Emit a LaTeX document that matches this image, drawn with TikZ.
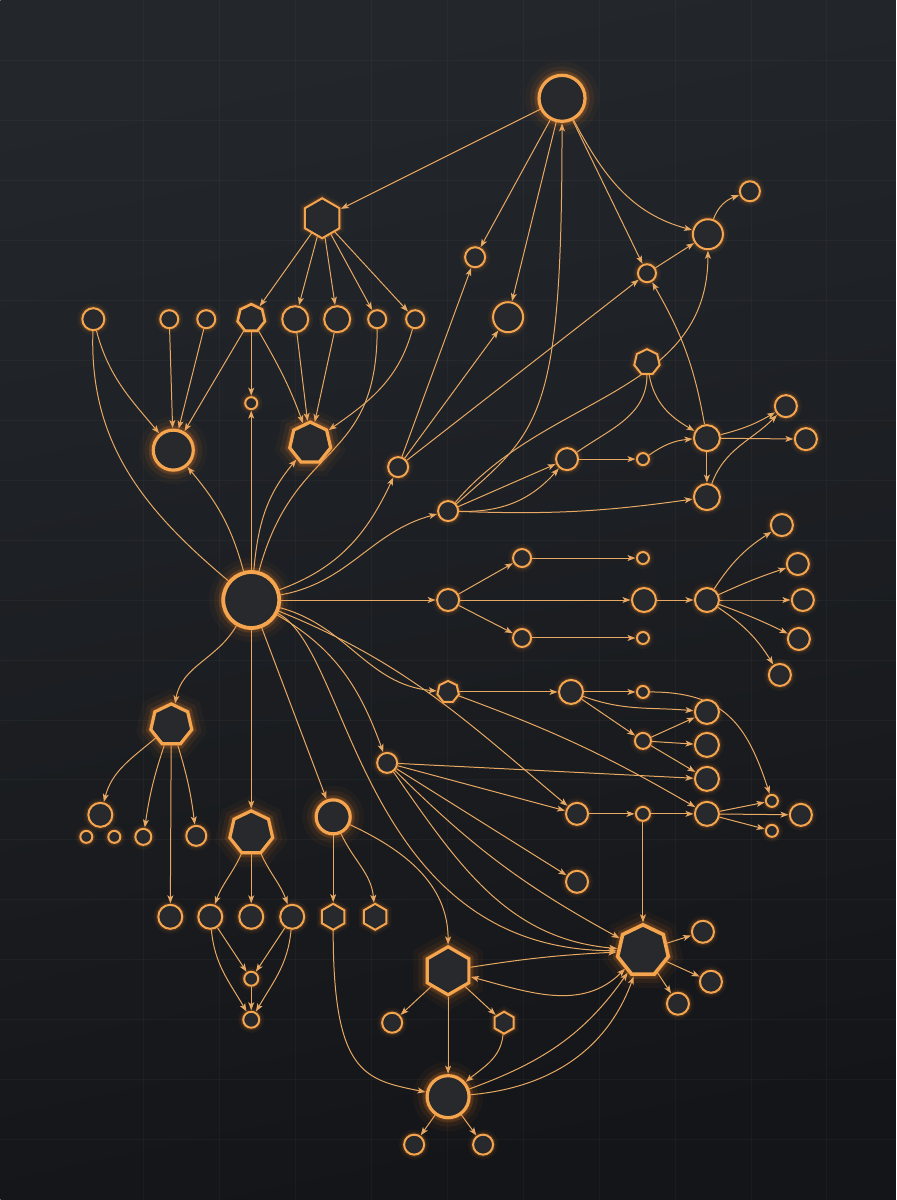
\documentclass[tikz,border=0pt]{standalone}
\usepackage{xcolor}
\usepackage{tikz}
\usetikzlibrary{arrows, arrows.meta}
\usetikzlibrary{shapes.geometric}
\usetikzlibrary{calc}
\pgfdeclarelayer{back}
\pgfdeclarelayer{bg}
\pgfsetlayers{back,bg,main}

\definecolor{bgtop}{HTML}{23272C}
\definecolor{bgbot}{HTML}{141518}
\definecolor{ember}{HTML}{F6A54F}
\definecolor{glow}{HTML}{FF8A26}
\definecolor{wirec}{HTML}{E8A964}
\definecolor{core}{HTML}{27292D}

\tikzset{
	nd/.style={circle, draw=ember, fill=core, line width=2pt, inner sep=0pt, minimum size=#1,
		preaction={draw=glow, line width=10pt, draw opacity=0.06},
		preaction={draw=glow, line width=5pt, draw opacity=0.15}},
	bright/.style={line width=3.2pt,
		preaction={draw=glow, line width=28pt, draw opacity=0.04},
		preaction={draw=glow, line width=18pt, draw opacity=0.07},
		preaction={draw=glow, line width=9pt, draw opacity=0.12}},
	hexa/.style={regular polygon, regular polygon sides=6, shape border rotate=30},
	hepta/.style={regular polygon, regular polygon sides=7},
	lk/.style={draw=wirec, line width=1pt, ->, shorten >=0.5pt},
	wr/.style={draw=wirec, line width=1pt},
}

\begin{document}
\begin{tikzpicture}[x=1pt, y=1pt, >={Stealth[length=8pt, width=6pt, inset=2pt]}]
	\begin{pgfonlayer}{back}
		\shade[top color=bgtop, bottom color=bgbot, shading angle=12] (0,0) rectangle (896,-1200);
		\foreach \gx in {143,219,...,827}
			{ \draw[white, opacity=0.03, line width=0.8pt] (\gx,0) -- (\gx,-1200); }
		\foreach \gy in {60,120,...,1140}
			{ \draw[white, opacity=0.03, line width=0.8pt] (0,-\gy) -- (896,-\gy); }
	\end{pgfonlayer}
	\useasboundingbox (0,0) rectangle (896,-1200);

	% upper part
	\node[nd=46, bright] (top) at (562,-98) {};
	\node[nd=40, hexa] (hexA) at (322,-218) {};
	\foreach \iNode/\px/\sz in {1/93/22, 2/169/18, 3/206/18, 5/295/26, 6/337/26, 7/377/18, 8/415/18}
	{
		\node[nd=\sz] (r\iNode) at (\px,-319) {};
	}
	\node[nd=28, hepta, line width=2.6pt] (r4) at (251,-318) {};
	\node[nd=40, bright] (sinkL) at (173,-450) {};
	\node[nd=12] (dot) at (251,-403) {};
	\node[nd=42, hepta, bright] (septB) at (310,-443) {};
	\foreach \iNode/\px/\py/\sz in {1/475/257/20, 2/508/317/30, 3/647/273/18, 4/708/234/30, 5/750/191/20}
	{
		\node[nd=\sz] (t\iNode) at (\px,-\py) {};
	}

	\node[nd=56, bright, line width=3.8pt] (hub) at (251,-600) {};

	\node[nd=20] (u1) at (398,-467) {};
	\node[nd=20] (u2) at (448,-511) {};
	\node[nd=22] (u3) at (567,-459) {};
	\node[nd=12] (u4) at (643,-459) {};
	\node[nd=26, hepta] (sept) at (647,-362) {};
	\node[nd=26] (u5) at (707,-438) {};
	\node[nd=22] (u6) at (786,-406) {};
	\node[nd=22] (u7) at (806,-439) {};
	\node[nd=26] (u8) at (707,-497) {};

	% middle rows
	\node[nd=22] (m1) at (448,-600) {};
	\node[nd=18] (m2) at (522,-558) {};
	\node[nd=12] (m3) at (643,-558) {};
	\node[nd=18] (m4) at (522,-638) {};
	\node[nd=12] (m5) at (643,-638) {};
	\node[nd=24] (m6) at (644,-600) {};
	\node[nd=24] (m7) at (707,-600) {};
	\foreach \iNode/\px/\py in {1/782/525, 2/798/564, 3/803/600, 4/799/639, 5/780/675}
	{
		\node[nd=22] (f\iNode) at (\px,-\py) {};
	}

	\node[nd=22, hepta] (l1) at (448,-692) {};
	\node[nd=24] (l2) at (571,-692) {};
	\node[nd=12] (l3) at (643,-692) {};
	\node[nd=16] (l4) at (643,-741) {};
	\foreach \iNode/\py in {1/712, 2/745, 3/779, 4/814}
	{
		\node[nd=24] (c\iNode) at (707,-\py) {};
	}
	\node[nd=12] (e1) at (772,-801) {};
	\node[nd=22] (e2) at (801,-815) {};
	\node[nd=12] (e3) at (772,-831) {};

	\node[nd=20] (k1) at (387,-763) {};
	\node[nd=22] (k2) at (577,-814) {};
	\node[nd=14] (k3) at (643,-814) {};
	\node[nd=22] (k4) at (577,-882) {};

	% lower left
	\node[nd=42, hepta, bright] (septA) at (171,-725) {};
	\node[nd=24] (a1) at (100,-815) {};
	\node[nd=12] (a2) at (86,-837) {};
	\node[nd=12] (a3) at (114,-837) {};
	\node[nd=16] (a4) at (143,-837) {};
	\node[nd=20] (a5) at (196,-836) {};
	\node[nd=24] (a6) at (170,-917) {};

	\node[nd=44, hepta, bright] (septC) at (251,-833) {};
	\foreach \iNode/\px in {1/210, 2/251, 3/292}
	{
		\node[nd=24] (b\iNode) at (\px,-917) {};
	}
	\node[nd=14] (b4) at (251,-979) {};
	\node[nd=16] (b5) at (251,-1020) {};

	\node[nd=34, bright] (ring) at (333,-817) {};
	\node[nd=26, hexa] (h1) at (333,-917) {};
	\node[nd=26, hexa] (h2) at (375,-917) {};

	% lower right
	\node[nd=48, hexa, bright] (hexB) at (448,-971) {};
	\node[nd=20] (h3) at (392,-1023) {};
	\node[nd=22, hexa] (h4) at (504,-1023) {};
	\node[nd=42, bright] (sink) at (448,-1097) {};
	\node[nd=20] (s1) at (414,-1145) {};
	\node[nd=20] (s2) at (483,-1145) {};
	\node[nd=52, hepta, bright, line width=3.6pt] (septD) at (643,-951) {};
	\node[nd=22] (d1) at (703,-932) {};
	\node[nd=22] (d2) at (711,-982) {};
	\node[nd=22] (d3) at (678,-1004) {};

	\begin{pgfonlayer}{bg}
		\draw[lk] (top) -- (hexA);
		\foreach \iNode in {4,...,8}
		{
			\draw[lk] (hexA) -- (r\iNode);
		}
		\draw[lk] (r1) to[out=-75,in=130] (sinkL);
		\draw[wr] (r1) to[out=-92,in=140] (hub);
		\foreach \iNode in {2,3,4}
		{
			\draw[lk] (r\iNode) -- (sinkL);
		}
		\draw[lk] (r4) -- (dot);
		\draw[lk] (r4) to[out=-60,in=110] (septB);
		\draw[lk] (r5) -- (septB);
		\draw[lk] (r6) -- (septB);
		\draw[lk] (r8) to[out=-105,in=35] (septB);
		\draw[wr] (r7) to[out=-90,in=75, looseness=1.3] (hub);
		\draw[lk] (hub) to[out=105,in=-50] (sinkL);
		\draw[lk] (hub) -- (dot);
		\draw[lk] (hub) to[out=85,in=-130] (septB);

		\draw[lk] (top) -- (t1);
		\draw[lk] (top) -- (t2);
		\draw[lk] (top) -- (t3);
		\draw[lk] (top) to[out=-62,in=165] (t4);
		\draw[lk] (t3) -- (t4);
		\draw[lk] (t4) to[out=70,in=200] (t5);
		\foreach \iNode in {1,2,3}
		{
			\draw[lk] (u1) -- (t\iNode);
		}
		\draw[lk] (u2) .. controls (540,-430) and (562,-420) .. (top);
		\draw[lk] (u2) .. controls (545,-395) and (708,-395) .. (t4);
		\draw[lk] (u2) -- (u3);
		\draw[lk] (u2) to[bend right=25] (u3);
		\draw[lk] (u2) to[bend right=5] (u8);
		\draw[lk] (u3) -- (u4);
		\draw[wr] (u3) to[out=35,in=-90] (sept);
		\draw[lk] (sept) to[out=-80,in=150] (u5);
		\draw[lk] (u4) to[bend left=15] (u5);
		\draw[lk] (u5) to[out=100,in=-60] (t3);
		\draw[lk] (u5) to[bend right=8] (u6);
		\draw[lk] (u5) -- (u7);
		\draw[lk] (u5) -- (u8);
		\draw[lk] (u8) to[out=70,in=-135] (u6);
		\draw[lk] (hub) to[out=20,in=-115] (u1);
		\draw[lk] (hub) to[out=10,in=195] (u2);

		\draw[lk] (hub) -- (m1);
		\draw[lk] (m1) -- (m2);
		\draw[lk] (m1) -- (m6);
		\draw[lk] (m1) -- (m4);
		\draw[lk] (m2) -- (m3);
		\draw[lk] (m4) -- (m5);
		\draw[lk] (m6) -- (m7);
		\foreach \iNode/\bnd in {1/12, 2/3, 3/0, 4/3, 5/12}
		{
			\draw[lk] (m7) to[bend left=\bnd] (f\iNode);
		}

		\draw[lk] (hub) to[out=-15,in=175] (l1);
		\draw[lk] (l1) -- (l2);
		\draw[lk] (l1) to[bend left=5] (c4);
		\draw[lk] (l2) -- (l3);
		\draw[lk] (l2) to[out=-20,in=175] (c1);
		\draw[lk] (l2) -- (l4);
		\foreach \iNode in {1,2,3}
		{
			\draw[lk] (l4) -- (c\iNode);
		}
		\draw[lk] (l3) to[out=0,in=108, looseness=1.2] (e1);
		\foreach \iNode in {1,2,3}
		{
			\draw[lk] (c4) -- (e\iNode);
		}

		\draw[lk] (hub) to[out=-30,in=110] (k1);
		\draw[lk] (hub) to[out=-22,in=140] (k2);
		\draw[lk] (hub) .. controls (350,-650) and (360,-950) .. (septD);
		\draw[lk] (k1) -- (c3);
		\draw[lk] (k1) -- (k2);
		\draw[lk] (k1) -- (k4);
		\draw[lk] (k1) to[bend right=8] (septD);
		\draw[lk] (k1) to[out=-55,in=175] (septD);
		\draw[lk] (k2) -- (k3);
		\draw[lk] (k3) -- (c4);
		\draw[lk] (k3) -- (septD);

		\draw[lk] (hub) to[out=-120,in=80] (septA);
		\draw[lk] (septA) to[out=-140,in=75] (a1);
		\draw[lk] (septA) to[bend right=5] (a4);
		\draw[lk] (septA) to[bend left=5] (a5);
		\draw[lk] (septA) -- (a6);
		\draw[lk] (hub) -- (septC);
		\draw[lk] (septC) to[out=-115,in=70] (b1);
		\draw[lk] (septC) -- (b2);
		\draw[lk] (septC) to[out=-65,in=110] (b3);
		\draw[lk] (b1) -- (b4);
		\draw[lk] (b3) -- (b4);
		\draw[lk] (b4) -- (b5);
		\draw[lk] (b1) to[out=-85,in=120] (b5);
		\draw[lk] (b3) to[out=-95,in=60] (b5);

		\draw[lk] (hub) -- (ring);
		\draw[lk] (ring) -- (h1);
		\draw[lk] (ring) to[out=-65,in=95] (h2);
		\draw[lk] (ring) to[out=-25,in=90] (hexB);
		\draw[lk] (h1) .. controls (333,-1075) and (365,-1080) .. (sink);
		\draw[lk] (hexB) -- (h3);
		\draw[lk] (hexB) -- (h4);
		\draw[lk] (hexB) -- (sink);
		\draw[lk] (h4) to[out=-95,in=40] (sink);
		\draw[lk] (hexB) to[bend left=3] (septD);
		\draw[lk, <->] (septD) to[out=-135,in=-15] (hexB);
		\draw[lk] (sink) to[out=20,in=-125] (septD);
		\draw[lk] (sink) to[out=5,in=-110] (septD);
		\draw[lk] (sink) -- (s1);
		\draw[lk] (sink) -- (s2);
		\foreach \iNode in {1,2,3}
		{
			\draw[lk] (septD) -- (d\iNode);
		}
	\end{pgfonlayer}
\end{tikzpicture}
\end{document}
